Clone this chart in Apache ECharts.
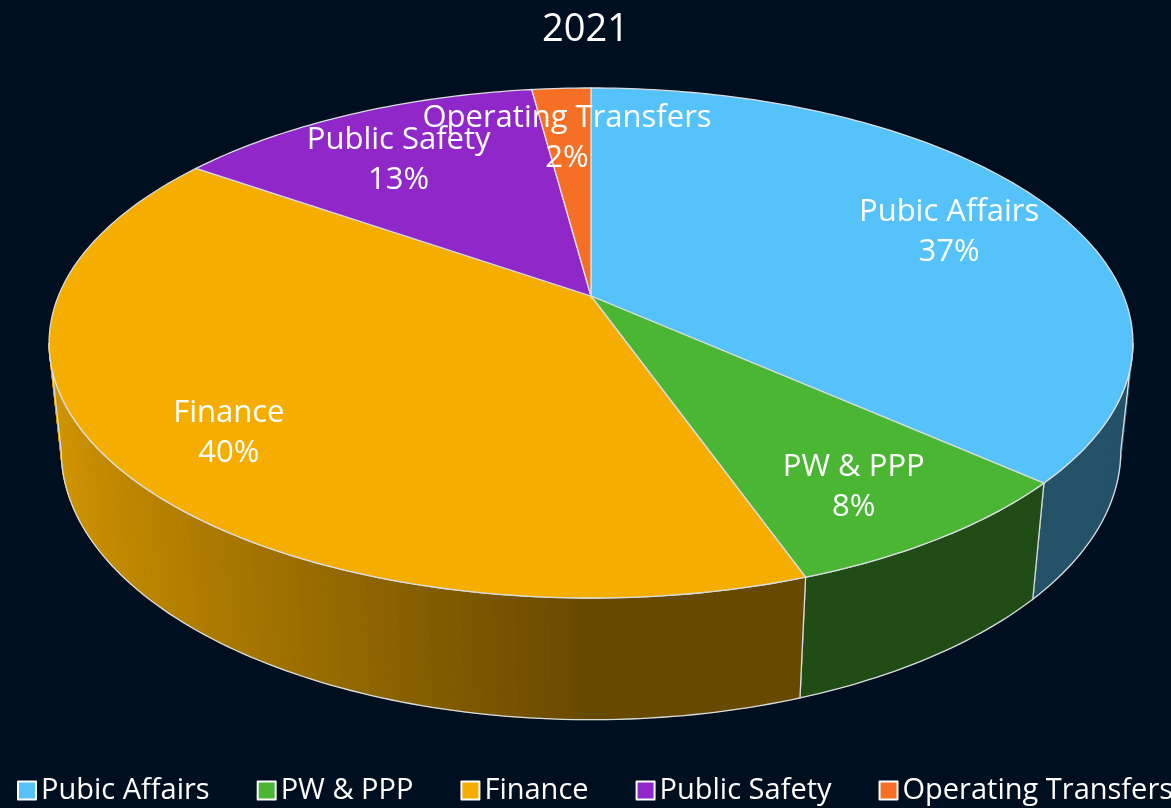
<!DOCTYPE html>
<html>
<head>
<meta charset="utf-8">
<title>2021</title>
<script src="https://cdn.jsdelivr.net/npm/echarts@6.0.0/dist/echarts.min.js"></script>
<style>
  html, body { margin: 0; padding: 0; background: #000F20; }
  #chart { width: 1171px; height: 808px; }
</style>
</head>
<body>
<div id="chart"></div>
<script>
// Chart data (shares in %, estimated from the slice edges; labels round them)
const chartTitle = '2021';
const categories = ['Pubic Affairs', 'PW & PPP', 'Finance', 'Public Safety', 'Operating Transfers'];
const shares = [36.6, 8.0, 40.1, 13.2, 2.1];
const colors = ['#55C3FA', '#4BB634', '#F5AE00', '#9027C8', '#F57024'];

const total = shares.reduce((a, b) => a + b, 0);
const startAngles = [];
shares.reduce((acc, v) => { startAngles.push(acc / total * 2 * Math.PI); return acc + v; }, 0);

// Perspective camera for the tilted pie (unit radius disc, thickness H)
const CX = 591, CY = 296, FOCAL = 2562, DIST = 4.81, H = 0.23;
const PHI = 27.55 * Math.PI / 180;
const cosP = Math.cos(PHI), sinP = Math.sin(PHI);
const EDGE = '#DADDE0';
const FONT = '"Open Sans", sans-serif';

function project(theta, r, h) {
    const x = r * Math.sin(theta), w = r * Math.cos(theta);
    const z = DIST + w * cosP - h * sinP;
    const up = w * sinP + h * cosP;
    return [CX + FOCAL * x / z, CY - FOCAL * up / z];
}

// angle where the rim (at height h) reaches its left/right extreme on screen
function extremeAngle(h, from, to, sign) {
    let best = from, bx = -Infinity;
    for (let t = from; t <= to; t += 0.0005) {
        const x = sign * project(t, 1, h)[0];
        if (x > bx) { bx = x; best = t; }
    }
    return best;
}
const topR = extremeAngle(0, 0, Math.PI, 1);
const topL = extremeAngle(0, Math.PI, 2 * Math.PI, -1);
const botR = extremeAngle(-H, 0, Math.PI, 1);
const botL = extremeAngle(-H, Math.PI, 2 * Math.PI, -1);

function shade(hex, f) {
    const n = parseInt(hex.slice(1), 16);
    const r = Math.min(255, Math.round(((n >> 16) & 255) * f));
    const g = Math.min(255, Math.round(((n >> 8) & 255) * f));
    const b = Math.min(255, Math.round((n & 255) * f));
    return `rgb(${r},${g},${b})`;
}

// light comes from the left: walls get brighter toward the left side
function wallFactor(theta) {
    return 0.42 + 0.46 * Math.max(0, -Math.sin(theta));
}

function sliceRange(i, api) {
    const a0 = startAngles[i];
    return [a0, a0 + api.value(0) / total * 2 * Math.PI];
}

function renderWall(params, api) {
    const i = params.dataIndex;
    const [a0, a1] = sliceRange(i, api);
    const tLo = Math.max(a0, topR), tHi = Math.min(a1, topL);
    const bLo = Math.max(a0, botR), bHi = Math.min(a1, botL);
    if (tHi <= tLo || bHi <= bLo) return { type: 'group', children: [] };
    const steps = Math.max(2, Math.ceil((tHi - tLo) / (Math.PI / 180)));
    const topPts = [], botPts = [];
    for (let k = 0; k <= steps; k++) {
        const s = k / steps;
        topPts.push(project(tLo + (tHi - tLo) * s, 1, 0));
        botPts.push(project(bLo + (bHi - bLo) * s, 1, -H));
    }
    const children = [];
    for (let k = 0; k < steps; k++) {
        const c = shade(colors[i], wallFactor(tLo + (tHi - tLo) * (k + 0.5) / steps));
        children.push({
            type: 'polygon',
            shape: { points: [topPts[k], topPts[k + 1], botPts[k + 1], botPts[k]] },
            style: { fill: c, stroke: c, lineWidth: 1 }
        });
    }
    children.push({
        type: 'polygon',
        shape: { points: topPts.concat(botPts.slice().reverse()) },
        style: { fill: 'none', stroke: EDGE, lineWidth: 1.3 }
    });
    return { type: 'group', children };
}

function renderTop(params, api) {
    const i = params.dataIndex;
    const [a0, a1] = sliceRange(i, api);
    const steps = Math.max(2, Math.ceil((a1 - a0) / (Math.PI / 180)));
    const pts = [project(0, 0, 0)];
    for (let k = 0; k <= steps; k++) pts.push(project(a0 + (a1 - a0) * k / steps, 1, 0));
    const mid = (a0 + a1) / 2;
    const lp = project(mid, 0.78, 0);
    const pct = Math.round(api.value(0) / total * 100);
    return {
        type: 'group',
        children: [{
            type: 'polygon',
            shape: { points: pts },
            style: { fill: colors[i], stroke: EDGE, lineWidth: 1.3 }
        }, {
            type: 'text',
            z2: 100,
            x: lp[0],
            y: lp[1] + 10,
            style: {
                text: categories[i] + '\n' + pct + '%',
                fill: '#FFFFFF',
                font: '31px ' + FONT,
                align: 'center',
                verticalAlign: 'middle',
                lineHeight: 40
            }
        }]
    };
}

const chart = echarts.init(document.getElementById('chart'));
const sliceData = categories.map((name, i) => ({ name, value: shares[i] }));

chart.setOption({
    backgroundColor: '#000F20',
    animation: false,
    title: {
        text: chartTitle,
        left: 'center',
        top: 6,
        textStyle: { color: '#FFFFFF', fontSize: 38, fontWeight: 'normal', fontFamily: FONT }
    },
    legend: {
        left: 17,
        top: 776,
        padding: 0,
        width: 1160,
        icon: 'rect',
        itemWidth: 18,
        itemHeight: 18,
        itemGap: 47,
        itemStyle: { borderColor: '#FFFFFF', borderWidth: 2 },
        textStyle: { color: '#FFFFFF', fontSize: 29, fontFamily: FONT },
        data: categories
    },
    series: [{
        // legend source only, drawn off-screen
        type: 'pie',
        name: 'legend',
        center: [-500, -500],
        radius: 1,
        silent: true,
        label: { show: false },
        data: sliceData.map((d, i) => ({ ...d, itemStyle: { color: colors[i] } }))
    }, {
        type: 'custom',
        name: 'walls',
        coordinateSystem: 'none',
        silent: true,
        z: 2,
        renderItem: renderWall,
        data: sliceData
    }, {
        type: 'custom',
        name: 'tops',
        coordinateSystem: 'none',
        silent: true,
        z: 3,
        renderItem: renderTop,
        data: sliceData
    }]
});
</script>
</body>
</html>
